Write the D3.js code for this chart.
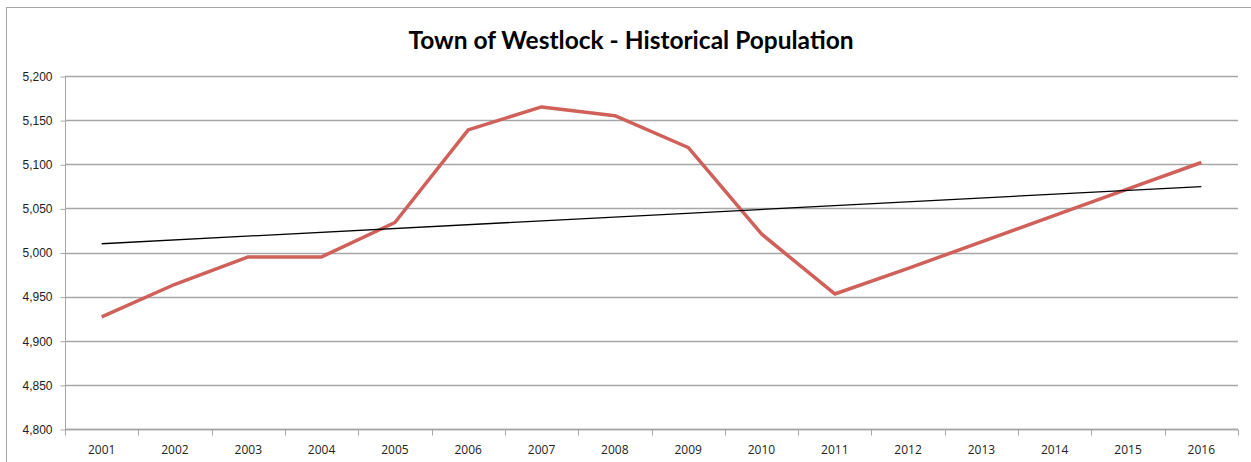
<!DOCTYPE html>
<html>
<head>
<meta charset="utf-8">
<script src="https://cdn.jsdelivr.net/npm/d3@7"></script>
<style>
  body { margin: 0; background: #fff; }
  svg { display: block; font-family: 'Open Sans', 'Noto Sans', sans-serif; }
  .axis text { font-size: 12px; fill: #222; }
  .axis path, .axis line { stroke: #a6a6a6; }
</style>
</head>
<body>
<svg id="chart" width="1251" height="462"></svg>
<script>
'use strict';

// Data
var years = ['2001', '2002', '2003', '2004', '2005', '2006', '2007', '2008',
             '2009', '2010', '2011', '2012', '2013', '2014', '2015', '2016'];
var population = [4927, 4964, 4995, 4995, 5034, 5139, 5165, 5155,
                  5119, 5021, 4953, 4982, 5012, 5042, 5072, 5102];
var yTicks = [4800, 4850, 4900, 4950, 5000, 5050, 5100, 5150, 5200];
var chartTitle = 'Town of Westlock - Historical Population';

var svg = d3.select('#chart');
var margin = { top: 76, right: 13, bottom: 33, left: 65 };
var width = 1251, height = 462;

// outer chart border
svg.append('rect')
    .attr('x', 6.5).attr('y', 7.5)
    .attr('width', 1260).attr('height', 470)
    .style('fill', 'none')
    .style('stroke', '#a6a6a6');

svg.append('text')
    .attr('x', 631)
    .attr('y', 49)
    .attr('text-anchor', 'middle')
    .style('font-family', 'Lato, "Open Sans", sans-serif')
    .style('font-weight', 'bold')
    .style('font-size', '24.5px')
    .style('fill', '#000')
    .text(chartTitle);

var x = d3.scaleBand()
    .domain(years)
    .range([margin.left, width - margin.right]);
var y = d3.scaleLinear()
    .domain([4800, 5200])
    .range([height - margin.bottom, margin.top]);

// horizontal gridlines
svg.append('g')
    .selectAll('line')
    .data(yTicks)
    .enter().append('line')
    .attr('x1', margin.left)
    .attr('x2', width - margin.right)
    .attr('y1', function(d) { return Math.round(y(d)) + 0.5; })
    .attr('y2', function(d) { return Math.round(y(d)) + 0.5; })
    .style('stroke', '#a6a6a6')
    .style('stroke-width', 1.5);

// y axis
var yAxis = d3.axisLeft(y)
    .tickValues(yTicks)
    .tickSize(5)
    .tickPadding(8)
    .tickFormat(d3.format(','));
var yg = svg.append('g')
    .attr('class', 'axis')
    .attr('transform', 'translate(' + (margin.left + 0.5) + ',0.5)')
    .call(yAxis);
yg.select('.domain').attr('d', 'M0,' + y(5200) + 'V' + y(4800));

// x axis: ticks at band boundaries
var xg = svg.append('g')
    .attr('class', 'axis')
    .attr('transform', 'translate(0,' + (Math.round(y(4800)) + 0.5) + ')');
xg.append('line')
    .attr('x1', margin.left).attr('x2', width - margin.right)
    .style('stroke-width', 1.5);
xg.selectAll('line.tick')
    .data(years.concat(['end']))
    .enter().append('line')
    .attr('class', 'tick')
    .attr('x1', function(d, i) { return Math.round(i < years.length ? x(d) : x.range()[1]) + 0.5; })
    .attr('x2', function(d, i) { return Math.round(i < years.length ? x(d) : x.range()[1]) + 0.5; })
    .attr('y1', 0).attr('y2', 6);
xg.selectAll('text')
    .data(years)
    .enter().append('text')
    .attr('x', function(d) { return x(d) + x.bandwidth() / 2; })
    .attr('y', 24)
    .attr('text-anchor', 'middle')
    .text(function(d) { return d; });

// population line
var cx = function(d, i) { return x(years[i]) + x.bandwidth() / 2; };
svg.append('path')
    .datum(population)
    .attr('d', d3.line().x(cx).y(function(d) { return y(d); }))
    .style('fill', 'none')
    .style('stroke', '#cf605a')
    .style('stroke-width', 3.5)
    .style('stroke-linejoin', 'round');

// linear trendline (least squares over the data)
var n = population.length;
var mx = d3.mean(population, function(d, i) { return i; });
var my = d3.mean(population);
var sxy = d3.sum(population, function(d, i) { return (i - mx) * (d - my); });
var sxx = d3.sum(population, function(d, i) { return (i - mx) * (i - mx); });
var slope = sxy / sxx;
var trend = [0, n - 1].map(function(i) { return { i: i, v: my + slope * (i - mx) }; });
svg.append('path')
    .datum(trend)
    .attr('d', d3.line()
        .x(function(d) { return x(years[d.i]) + x.bandwidth() / 2; })
        .y(function(d) { return y(d.v); }))
    .style('fill', 'none')
    .style('stroke', '#000')
    .style('stroke-width', 1.3);
</script>
</body>
</html>
